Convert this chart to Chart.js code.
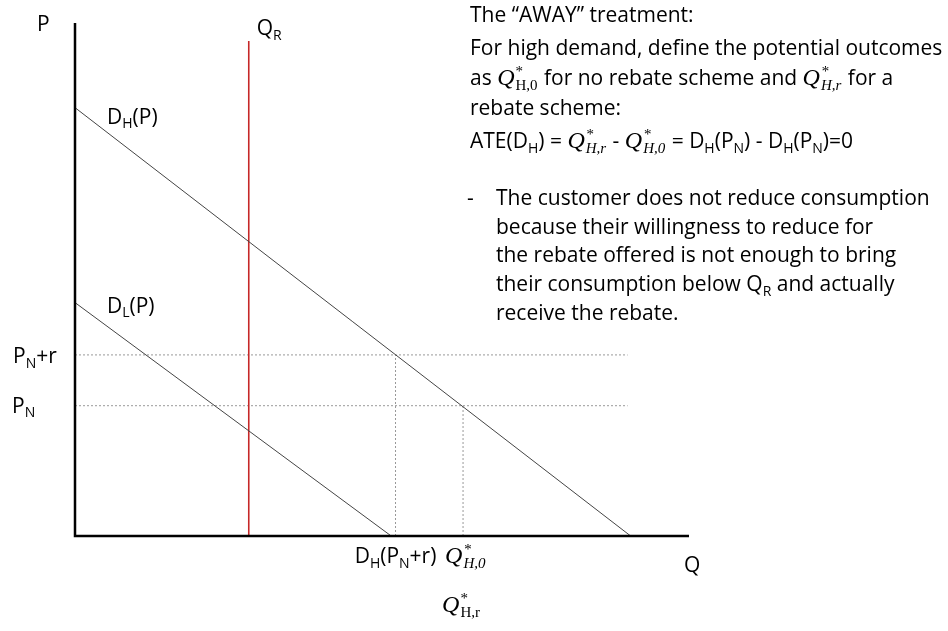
<!DOCTYPE html>
<html>
<head>
<meta charset="utf-8">
<script src="https://cdn.jsdelivr.net/npm/chart.js@4/dist/chart.umd.min.js"></script>
<style>
  html, body { margin: 0; padding: 0; background: #fff; }
  canvas { display: block; }
</style>
</head>
<body>
<canvas id="chart" width="948" height="631"></canvas>
<script>
// values, axes run 0..100 in both directions
const axisMax = 100;
const demandHigh = [{ x: 0, y: 83.5 }, { x: 90.5, y: 0 }];   // D_H(P)
const demandLow = [{ x: 0, y: 45.5 }, { x: 51.5, y: 0 }];    // D_L(P)
const rebateThreshold = 28.3;   // Q_R
const rebateTop = 96.5;
const priceLevels = [35.3, 25.4];   // P_N+r, P_N
const priceLineEnd = 90;
const quantityMarks = [52.2, 63.2];   // D_H(P_N+r), Q*_H,0

const FONT = '"Open Sans", "DejaVu Sans", sans-serif';
const MATH = '"Liberation Serif", "DejaVu Serif", serif';

// text pieces: plain strings, {sub: '..'} subscripts, {q: '..', roman} for Q*_{..}
function runs(ctx, x, y, parts, size, dry) {
  let cx = x;
  const subSize = Math.round(size * 0.65);
  for (const p of parts) {
    if (typeof p === 'string') {
      ctx.font = size + 'px ' + FONT;
      if (!dry) ctx.fillText(p, cx, y);
      cx += ctx.measureText(p).width;
    } else if (p.sub !== undefined) {
      ctx.font = subSize + 'px ' + FONT;
      if (!dry) ctx.fillText(p.sub, cx, y + size * 0.22);
      cx += ctx.measureText(p.sub).width;
    } else if (p.q !== undefined) {
      ctx.font = 'italic ' + Math.round(size * 1.15) + 'px ' + MATH;
      if (!dry) ctx.fillText('Q', cx, y);
      cx += ctx.measureText('Q').width + 1;
      ctx.font = (p.roman ? '' : 'italic ') + Math.round(size * 0.72) + 'px ' + MATH;
      const ws = ctx.measureText(p.q).width;
      if (!dry) {
        ctx.fillText(p.q, cx, y + size * 0.25);
        ctx.fillText('*', cx, y - size * 0.42);
      }
      cx += ws + 1;
    }
  }
  return cx - x;
}

const textBlock = [
  { y: 22, parts: ['The \u201cAWAY\u201d treatment:'] },
  { y: 55, parts: ['For high demand, define the potential outcomes'] },
  { y: 85, parts: ['as ', { q: 'H,0', roman: true }, ' for no rebate scheme and ', { q: 'H,r' }, ' for a'] },
  { y: 115, parts: ['rebate scheme:'] },
  { y: 148, parts: ['ATE(D', { sub: 'H' }, ') = ', { q: 'H,r' }, ' - ', { q: 'H,0' }, ' = D', { sub: 'H' }, '(P', { sub: 'N' }, ') - D', { sub: 'H' }, '(P', { sub: 'N' }, ')=0'] }
];
const bulletLines = [
  ['The customer does not reduce consumption'],
  ['because their willingness to reduce for'],
  ['the rebate offered is not enough to bring'],
  ['their consumption below Q', { sub: 'R' }, ' and actually'],
  ['receive the rebate.']
];

const labelPlugin = {
  id: 'labels',
  afterDatasetsDraw(chart) {
    const { ctx, scales: { x, y } } = chart;
    ctx.save();
    ctx.fillStyle = '#000';
    ctx.textBaseline = 'alphabetic';
    const L = 21;

    runs(ctx, x.getPixelForValue(0) - 38, y.getPixelForValue(axisMax) + 8, ['P'], L);
    runs(ctx, x.getPixelForValue(rebateThreshold) + 8, y.getPixelForValue(rebateTop) - 6, ['Q', { sub: 'R' }], L);
    runs(ctx, x.getPixelForValue(0) + 32, y.getPixelForValue(demandHigh[0].y) + 16, ['D', { sub: 'H' }, '(P)'], L);
    runs(ctx, x.getPixelForValue(0) + 32, y.getPixelForValue(demandLow[0].y) + 10, ['D', { sub: 'L' }, '(P)'], L);
    runs(ctx, 13, y.getPixelForValue(priceLevels[0]) + 8, ['P', { sub: 'N' }, '+r'], L);
    runs(ctx, 12, y.getPixelForValue(priceLevels[1]) + 7, ['P', { sub: 'N' }], L);
    runs(ctx, x.getPixelForValue(axisMax) - 5, y.getPixelForValue(0) + 36, ['Q'], L);

    const base = y.getPixelForValue(0) + 27;
    const lab1 = ['D', { sub: 'H' }, '(P', { sub: 'N' }, '+r)'];
    const w1 = runs(ctx, 0, 0, lab1, L, true);
    runs(ctx, x.getPixelForValue(quantityMarks[0]) - w1 / 2, base, lab1, L);
    runs(ctx, x.getPixelForValue(quantityMarks[1]) - 18, base, [{ q: 'H,0' }], L);
    runs(ctx, x.getPixelForValue(quantityMarks[1]) - 21, base + 49, [{ q: 'H,r', roman: true }], L);

    const T = 21;
    textBlock.forEach(l => runs(ctx, 470, l.y, l.parts, T));
    runs(ctx, 467, 205, ['-'], T);
    bulletLines.forEach((l, i) => runs(ctx, 496, 205 + i * 28.7, l, T));
    ctx.restore();
  }
};

const seg = (data, color, width, dash) => ({
  data, borderColor: color, borderWidth: width, borderDash: dash || [],
  showLine: true, pointRadius: 0, fill: false, clip: false, tension: 0
});

const datasets = [
  seg([{ x: 0, y: axisMax }, { x: 0, y: 0 }, { x: axisMax, y: 0 }], '#000', 2.5),
  seg(demandHigh, '#444', 1),
  seg(demandLow, '#444', 1),
  seg([{ x: rebateThreshold, y: 0 }, { x: rebateThreshold, y: rebateTop }], '#c62828', 1.6)
];
priceLevels.forEach(p => datasets.push(seg([{ x: 0, y: p }, { x: priceLineEnd, y: p }], '#999', 1, [2, 2])));
quantityMarks.forEach((q, i) => datasets.push(seg([{ x: q, y: 0 }, { x: q, y: priceLevels[i] }], '#999', 1, [2, 2])));

new Chart(document.getElementById('chart'), {
  type: 'scatter',
  data: { datasets },
  options: {
    responsive: false,
    animation: false,
    layout: { padding: { left: 75, right: 259, top: 23, bottom: 95 } },
    scales: {
      x: { type: 'linear', min: 0, max: axisMax, display: false },
      y: { type: 'linear', min: 0, max: axisMax, display: false }
    },
    plugins: { legend: { display: false }, tooltip: { enabled: false } }
  },
  plugins: [labelPlugin]
});
</script>
</body>
</html>
